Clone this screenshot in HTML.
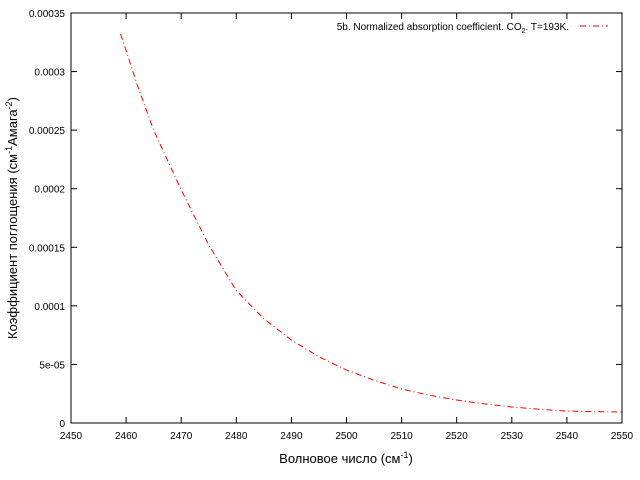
<!DOCTYPE html>
<html><head><meta charset="utf-8"><style>
body{margin:0;background:#fff}
svg{display:block;font-family:"Liberation Sans","DejaVu Sans",sans-serif}
</style></head><body>
<svg width="640" height="480">
<g id="axes"></g>
<g id="series"></g>
<rect x="71" y="13" width="551" height="410" fill="none" stroke="#000"/>
<text x="346" y="463" font-size="13" text-anchor="middle">Волновое число (см<tspan dy="-5" font-size="9">-1</tspan><tspan dy="5">)</tspan></text>
<text transform="translate(17,218) rotate(-90)" font-size="13" text-anchor="middle">Коэффициент поглощения (см<tspan dy="-5" font-size="9">-1</tspan><tspan dy="5">Амага</tspan><tspan dy="-5" font-size="9">-2</tspan><tspan dy="5">)</tspan></text>
<g>
<text x="569" y="30" font-size="10" text-anchor="end">5b. Normalized absorption coefficient. CO<tspan dy="3" font-size="7">2</tspan><tspan dy="-3">. T=193K.</tspan></text>
<line x1="580" y1="26" x2="608" y2="26" stroke="#f00" stroke-dasharray="6,3,1,3"/>
</g>
</svg>
<script>
const xTicks=[2450,2460,2470,2480,2490,2500,2510,2520,2530,2540,2550];
const yTicks=[0,0.00005,0.0001,0.00015,0.0002,0.00025,0.0003,0.00035];
const yTickLabels=["0","5e-05","0.0001","0.00015","0.0002","0.00025","0.0003","0.00035"];
const xs=[2459,2460,2462,2465,2470,2475,2480,2485,2490,2495,2500,2505,2510,2515,2520,2525,2530,2535,2540,2545,2550];
const ys=[0.000332,0.000318,0.000289,0.00025,0.000199,0.000152,0.000113,0.000089,0.0000708,0.0000565,0.0000452,0.0000365,0.000029,0.0000238,0.0000196,0.0000163,0.0000137,0.0000117,0.0000102,0.0000097,0.0000094];
const L=71,R=622,T=13,B=423;
const sx=v=>L+(v-2450)/100*(R-L);
const sy=v=>B-v/0.00035*(B-T);
const NS="http://www.w3.org/2000/svg";
const ax=document.getElementById('axes');
function mk(t,a){const e=document.createElementNS(NS,t);for(const k in a)e.setAttribute(k,a[k]);return e;}
xTicks.forEach(v=>{
const x=sx(v);
const t1=mk('line',{x1:x,y1:B,x2:x,y2:B-6,stroke:'#000'});


ax.appendChild(t1);
const t2=mk('line',{x1:x,y1:T,x2:x,y2:T+6,stroke:'#000'});


ax.appendChild(t2);
const tx=mk('text',{x:x,y:B+16,'font-size':10,'text-anchor':'middle'});
tx.textContent=v;


ax.appendChild(tx);
});
yTicks.forEach((v,i)=>{
const y=sy(v);
const t1=mk('line',{x1:L,y1:y,x2:L+6,y2:y,stroke:'#000'});


ax.appendChild(t1);
const t2=mk('line',{x1:R,y1:y,x2:R-6,y2:y,stroke:'#000'});


ax.appendChild(t2);
const tx=mk('text',{x:L-6,y:y+4,'font-size':10,'text-anchor':'end'});
tx.textContent=yTickLabels[i];


ax.appendChild(tx);
});
const p=mk('polyline',{points:xs.map((x,i)=>sx(x)+','+sy(ys[i])).join(' '),fill:'none',stroke:'#f00','stroke-dasharray':'6,3,1,3'});


document.getElementById('series').appendChild(p);
</script>
</body></html>
